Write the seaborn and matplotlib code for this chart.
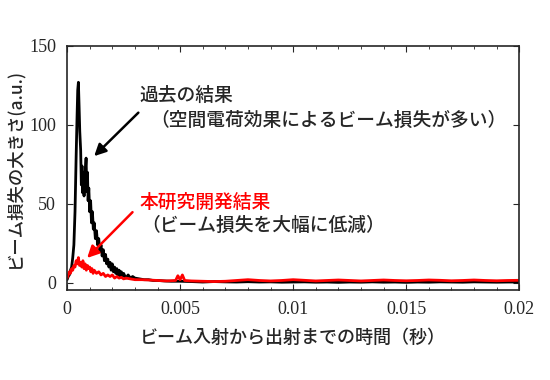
import matplotlib
matplotlib.use("Agg")
import matplotlib.pyplot as plt
import pandas as pd
import seaborn as sns
from matplotlib.ticker import AutoMinorLocator

# 過去の結果 (black)
t_past = [0.0, 0.00005, 0.0001, 0.00015, 0.0002, 0.00025, 0.0003, 0.00035, 0.0004,
          0.00044, 0.00047, 0.0005, 0.00053, 0.00056, 0.0006, 0.00063, 0.00066,
          0.00069, 0.00072, 0.00075, 0.00078, 0.00081, 0.00084, 0.00087, 0.0009,
          0.00093, 0.00096, 0.001, 0.00104, 0.00108, 0.00112, 0.00116, 0.0012,
          0.00125, 0.0013, 0.00135, 0.0014, 0.00145, 0.0015, 0.00155, 0.0016,
          0.00165, 0.0017, 0.00175, 0.0018, 0.00185, 0.0019, 0.00195, 0.002,
          0.00205, 0.0021, 0.00215, 0.0022, 0.00225, 0.0023, 0.00235, 0.0024,
          0.00245, 0.0025, 0.0026, 0.0027, 0.0028, 0.0029, 0.003, 0.0032, 0.0034,
          0.0036, 0.0038, 0.004, 0.0043, 0.0046, 0.005, 0.0055, 0.006, 0.0065,
          0.007, 0.0075, 0.008, 0.0085, 0.009, 0.0095, 0.01, 0.0105, 0.011,
          0.0115, 0.012, 0.0125, 0.013, 0.0135, 0.014, 0.0145, 0.015, 0.0155,
          0.016, 0.0165, 0.017, 0.0175, 0.018, 0.0185, 0.019, 0.0195, 0.02]
v_past = [2, 4, 5, 8, 10, 16, 24, 45, 80,
          105, 122, 127, 112, 96, 84, 62, 74, 57, 70,
          55, 66, 72, 79, 58, 70, 52, 60, 45, 52,
          38, 45, 34, 38, 28, 33, 24, 28, 20, 24,
          17, 21, 14, 18, 12, 15, 10, 13, 8, 12,
          7, 10, 6, 9, 5, 8, 4, 7, 4, 6,
          3, 5, 3, 4, 3, 2.5, 2,
          2, 1.5, 1.5, 1.2, 1, 1, 0.8, 0.5, 0.8,
          0.6, 0.5, 0.7, 0.5, 0.6, 0.4, 0.5, 0.6, 0.4,
          0.5, 0.3, 0.5, 0.4, 0.6, 0.4, 0.5, 0.3, 0.5,
          0.4, 0.6, 0.5, 0.4, 0.6, 0.5, 0.4, 0.5, 0.5]

# 本研究開発結果 (red)
t_new = [0.0, 0.00005, 0.0001, 0.00015, 0.0002, 0.00025, 0.0003, 0.00035, 0.0004,
         0.00045, 0.0005, 0.00055, 0.0006, 0.00065, 0.0007, 0.00075, 0.0008,
         0.00085, 0.0009, 0.00095, 0.001, 0.00105, 0.0011, 0.00115, 0.0012,
         0.0013, 0.0014, 0.0015, 0.0016, 0.0017, 0.0018, 0.0019, 0.002, 0.0021,
         0.0022, 0.0023, 0.0024, 0.0025, 0.0026, 0.0028, 0.003, 0.0033, 0.0036,
         0.004, 0.0044, 0.0048, 0.0049, 0.005, 0.0051, 0.0052, 0.0055, 0.006,
         0.0065, 0.007, 0.0075, 0.008, 0.0085, 0.009, 0.0095, 0.01, 0.0105,
         0.011, 0.0115, 0.012, 0.0125, 0.013, 0.0135, 0.014, 0.0145, 0.015,
         0.0155, 0.016, 0.0165, 0.017, 0.0175, 0.018, 0.0185, 0.019, 0.0195, 0.02]
v_new = [3, 5, 7, 6, 9, 8, 11, 10, 14,
         12, 16, 11, 13, 10, 14, 9, 12,
         8, 11, 9, 10, 7, 9, 6, 8,
         6, 7, 5, 6, 4, 5, 4, 5, 3,
         4, 3, 3.5, 2.5, 3, 2.5, 2, 2, 1.8,
         1.5, 1.2, 1.5, 4.5, 2, 5, 1.5, 1.2, 1,
         0.8, 1, 1.5, 2, 1.5, 1.2, 1.5, 2, 1.6,
         1.2, 1.5, 1.8, 1.5, 1.2, 1.5, 1.8, 1.5, 1.3,
         1.5, 1.8, 1.6, 1.3, 1.5, 1.8, 1.5, 1.3, 1.5, 1.6]

JP = ["Noto Sans CJK JP", "DejaVu Sans"]

sns.set_style("ticks")
plt.rcParams["font.family"] = ["Liberation Serif", "DejaVu Serif"]

fig = plt.figure(figsize=(5.5, 3.8), dpi=100)
ax = fig.add_axes([0.122, 0.237, 0.822, 0.642])

df_past = pd.DataFrame({"t": t_past, "v": v_past})
df_new = pd.DataFrame({"t": t_new, "v": v_new})
sns.lineplot(data=df_past, x="t", y="v", color="black", lw=2, ax=ax)
sns.lineplot(data=df_new, x="t", y="v", color="#ff0000", lw=2, ax=ax)

ax.set_xlim(0, 0.02)
ax.set_ylim(-4.5, 150)
ax.set_xticks([0, 0.005, 0.01, 0.015, 0.02])
ax.set_xticklabels(["0", "0.005", "0.01", "0.015", "0.02"])
ax.set_yticks([0, 50, 100, 150])
ax.xaxis.set_minor_locator(AutoMinorLocator(5))
ax.tick_params(direction="in", labelsize=13, length=4, width=0.8, pad=8,
               top=True, right=True)
ax.tick_params(which="minor", direction="in", length=2, width=0.6, top=True)
for s in ax.spines.values():
    s.set_linewidth(1.2)

ax.set_xlabel("ビーム入射から出射までの時間（秒）", family=JP, fontsize=13,
              fontweight="medium", labelpad=8)
ax.set_ylabel("ビーム損失の大きさ(a.u.)", family=JP, fontsize=12.5,
              fontweight="medium", labelpad=4)

kw = dict(family=JP, fontweight="medium", va="center", fontsize=13.5)
ax.text(0.0032, 118.5, "過去の結果", **kw)
ax.text(0.0037, 103, "（空間電荷効果によるビーム損失が多い）", **kw)
ax.annotate("", xy=(0.00111, 79), xytext=(0.00324, 109),
            arrowprops=dict(arrowstyle="-|>,head_width=0.35,head_length=0.7",
                            color="black", lw=1.8))
ax.text(0.0032, 51, "本研究開発結果", color="#ff0000", **kw)
ax.text(0.0033, 36.5, "（ビーム損失を大幅に低減）", **kw)
ax.annotate("", xy=(0.0008, 14.5), xytext=(0.00298, 46),
            arrowprops=dict(arrowstyle="-|>,head_width=0.35,head_length=0.7",
                            color="#ff0000", lw=1.8))

fig.savefig("out.png", dpi=100)
